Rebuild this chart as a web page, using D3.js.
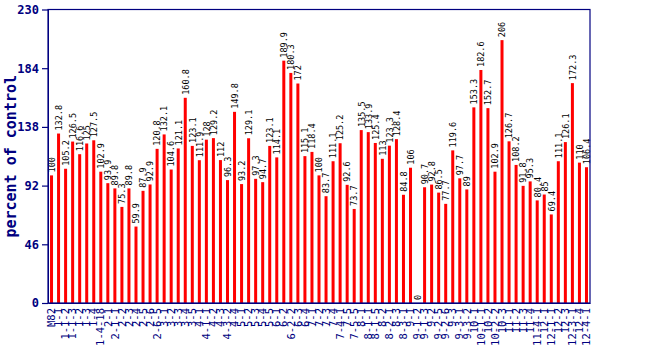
<!DOCTYPE html>
<html><head><meta charset="utf-8">
<script src="https://cdn.jsdelivr.net/npm/d3@7"></script>
<style>body{margin:0;background:#fff}svg{display:block}</style>
</head><body>
<svg id="c" width="650" height="350"></svg>
<script>
const categories = ["M82","1-1","1-1-2","1-1-3","1-2","1-3","1-4","1-4-18","2-1","2-1-1","2-2","2-3","2-4","2-5","2-6","2-6-5","3-1","3-2","3-3","3-4","3-5","4-1","4-1-1","4-2","4-3","4-3-2","4-4","5-1","5-2","5-3","5-4","5-5","6-1","6-2","6-2-2","6-3","6-4","7-1","7-2","7-3","7-4","7-4-1","7-5","7-5-5","8-1","8-1-1","8-1-5","8-2","8-2-1","8-3","8-3-1","9-1","9-1-2","9-1-3","9-2","9-2-5","9-2-6","9-3","9-3-1","9-3-2","10-1","10-1-1","10-2","10-2-2","10-3","11-1","11-2","11-3","11-4","11-4-1","12-1","12-1-1","12-2","12-3","12-3-1","12-4","12-4-1"];
const values = [100,132.8,105.2,126.5,116.6,125,127.5,102.9,93.9,89.8,75.3,89.8,59.9,87.9,92.9,120.8,132.1,104.6,121.1,160.8,123.1,111.9,128,129.2,112,96.3,149.8,93.2,129.1,97.3,94.7,123.1,114.1,189.9,180.3,172,115.1,118.4,100,83.7,111.1,125.2,92.6,73.7,135.5,133.9,125.4,113,123.3,128.4,84.8,106,0,90.7,92.8,86.5,77.7,119.6,97.7,89,153.3,182.6,152.7,102.9,206,126.7,108.2,91.8,95.3,80.4,85,69.4,111.1,126.1,172.3,110,106.4];
const yTicks = [0,46,92,138,184,230];
const yTitle = "percent of control";

const navy = "#000080";
const mono = "'DejaVu Sans Mono', 'Liberation Mono', monospace";
const L = 48, R = 590, T = 9.5, B = 303;
const svg = d3.select("#c");
const x = d3.scaleBand().domain(categories).range([L, R]);
const y = d3.scaleLinear().domain([0, 230]).range([B, T]);
const bw = 3;

// bars
svg.append("g").selectAll("rect").data(values).join("rect")
  .attr("x", (d,i) => x(categories[i]) + x.bandwidth()/2 - bw/2)
  .attr("y", d => y(d))
  .attr("width", bw)
  .attr("height", d => B - y(d))
  .attr("fill", "#ff0000");

// value labels
svg.append("g").selectAll("text").data(values).join("text")
  .attr("transform", (d,i) => `translate(${x(categories[i]) + x.bandwidth()/2 + 3.3},${y(d) - 3}) rotate(-90)`)
  .attr("font-family", mono).attr("font-size", 8.5).attr("fill", "#000")
  .text(d => d);

// frame
svg.append("rect").attr("x", L).attr("y", T).attr("width", R - L).attr("height", B - T)
  .attr("fill", "none").attr("stroke", navy).attr("stroke-width", 1.2);

// y axis
const ya = svg.append("g").attr("transform", `translate(${L},0)`)
  .call(d3.axisLeft(y).tickValues(yTicks).tickSize(6).tickPadding(3).tickSizeOuter(0));
ya.select(".domain").attr("stroke", navy);
ya.selectAll("line").attr("stroke", navy).attr("stroke-width", 1.2);
ya.selectAll("text").attr("fill", navy).attr("font-family", mono)
  .attr("font-size", 12).attr("font-weight", "bold");

// x axis
const xa = svg.append("g").attr("transform", `translate(0,${B})`)
  .call(d3.axisBottom(x).tickSize(0).tickSizeOuter(0));
xa.select(".domain").attr("stroke", navy);
xa.selectAll("text").attr("fill", navy).attr("font-family", mono).attr("font-size", 10.5)
  .attr("text-anchor", "end").attr("transform", "rotate(-90)")
  .attr("x", -5).attr("y", 0).attr("dy", "0.35em");

// y title
svg.append("text").attr("transform", `translate(16,${(T+B)/2}) rotate(-90)`)
  .attr("text-anchor", "middle").attr("font-family", mono).attr("font-size", 15)
  .attr("font-weight", "bold").attr("fill", navy).text(yTitle);
</script>
</body></html>
